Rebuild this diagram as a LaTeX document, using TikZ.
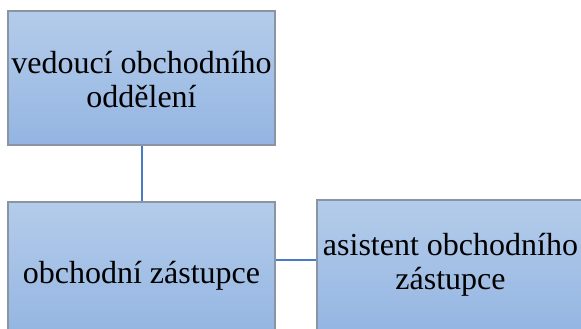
\documentclass[tikz,border=0pt]{standalone}
\usepackage{fontspec}
\newfontfamily\orgserif{LiberationSerif-Regular.ttf}
\definecolor{boxtop}{RGB}{180,204,234}
\definecolor{boxbot}{RGB}{148,181,226}
\definecolor{boxline}{RGB}{138,148,162}
\definecolor{connblue}{RGB}{72,122,198}
\begin{document}
\begin{tikzpicture}[x=1pt,y=-1pt,
  orgbox/.style={rectangle, draw=boxline, line width=1.5pt, top color=boxtop, bottom color=boxbot,
    minimum width=267pt, minimum height=134pt, inner sep=0pt},
  orgtext/.style={align=center, inner sep=0pt, font=\orgserif\fontsize{32}{34}\selectfont},
  conn/.style={draw=connblue, line width=2pt}]
\useasboundingbox (0,0) rectangle (581,329);
\clip (0,0) rectangle (581,329);
\node[orgbox] (lead) at (141.5,78) {};
\node[orgbox] (rep) at (141.5,269) {};
\node[orgbox] (asst) at (450.5,267) {};
\node[orgtext] (leadt) at (141.5,80) {vedoucí obchodního\\oddělení};
\node[orgtext] (rept) at (141.5,276) {obchodní zástupce};
\node[orgtext] (asstt) at (450.5,265) {asistent obchodního\\zástupce};
\coordinate (hy) at (0,260);
\draw[conn] (lead.south) -- (rep.north);
\draw[conn] (rep.east |- hy) -- (asst.west |- hy);
\end{tikzpicture}
\end{document}
